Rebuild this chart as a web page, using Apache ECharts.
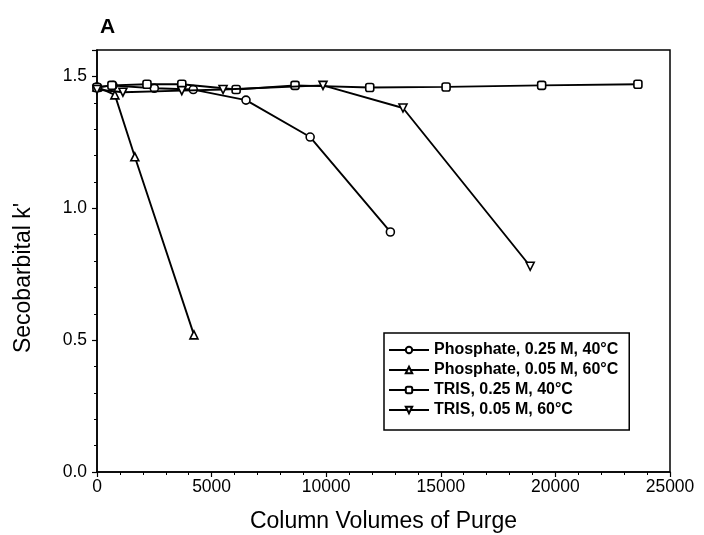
<!DOCTYPE html>
<html><head><meta charset="utf-8">
<script src="https://cdn.jsdelivr.net/npm/echarts@6/dist/echarts.min.js"></script>
<style>html,body{margin:0;padding:0;background:#fff}#c{width:704px;height:535px}</style>
</head><body><div id="c"></div>
<script>
const seriesNames = ["Phosphate, 0.25 M, 40\u00b0C","Phosphate, 0.05 M, 60\u00b0C","TRIS, 0.25 M, 40\u00b0C","TRIS, 0.05 M, 60\u00b0C"];
const phos025X = [0, 700, 2500, 4200, 6500, 9300, 12800];
const phos025Y = [1.46, 1.465, 1.455, 1.45, 1.41, 1.27, 0.91];
const phos005X = [0, 780, 1650, 4230];
const phos005Y = [1.46, 1.43, 1.195, 0.52];
const tris025X = [0, 650, 2180, 3700, 6070, 8640, 11900, 15230, 19400, 23600];
const tris025Y = [1.458, 1.466, 1.47, 1.47, 1.45, 1.466, 1.458, 1.46, 1.466, 1.47];
const tris005X = [0, 1130, 3700, 5500, 9860, 13350, 18900];
const tris005Y = [1.45, 1.44, 1.446, 1.45, 1.466, 1.38, 0.78];
const xTicks = [0, 5000, 10000, 15000, 20000, 25000];
const yTicks = [0.0, 0.5, 1.0, 1.5];

const zip = (xs, ys) => xs.map((x, i) => [x, ys[i]]);
const font = "'Liberation Sans', Arial, sans-serif";
const symbols = ['circle', 'triangle', 'roundRect', 'path://M0,0 L10,0 L5,9 Z'];
const sizes = [8, 8, 8, 8];
const datas = [zip(phos025X, phos025Y), zip(phos005X, phos005Y), zip(tris025X, tris025Y), zip(tris005X, tris005Y)];

const chart = echarts.init(document.getElementById('c'));
chart.setOption({
  animation: false,
  backgroundColor: '#fff',
  title: { text: 'A', left: 95, top: 12, textStyle: { fontFamily: font, fontWeight: 'bold', fontSize: 21, color: '#000' } },
  grid: { left: 97, right: 34, top: 50, bottom: 63, containLabel: false, outerBoundsMode: 'none', show: true, borderColor: '#000', borderWidth: 1.5, backgroundColor: 'transparent' },
  legend: {
    orient: 'vertical', left: 384, top: 333, padding: [9, 11, 12, 4],
    borderColor: '#000', borderWidth: 1.5, backgroundColor: '#fff',
    itemWidth: 40, itemHeight: 8, itemGap: 4,
    textStyle: { fontFamily: font, fontWeight: 'bold', fontSize: 16, color: '#000' },
    data: seriesNames
  },
  xAxis: {
    type: 'value', min: 0, max: 25000, interval: 5000,
    name: 'Column Volumes of Purge', nameLocation: 'middle', nameGap: 38,
    nameTextStyle: { fontFamily: font, fontSize: 23, color: '#000' },
    axisLine: { lineStyle: { color: '#000', width: 1.5 } },
    axisTick: { show: true, length: 5, lineStyle: { color: '#000', width: 1.2 } },
    minorTick: { show: true, splitNumber: 5, length: 3, lineStyle: { color: '#000', width: 1 } },
    splitLine: { show: false },
    axisLabel: { fontFamily: font, fontSize: 17.5, color: '#000', margin: 6, formatter: v => xTicks.includes(v) ? String(v) : '' }
  },
  yAxis: {
    type: 'value', min: 0, max: 1.6, interval: 0.5,
    name: "Secobarbital k'", nameLocation: 'middle', nameGap: 62, nameRotate: 90,
    nameTextStyle: { fontFamily: font, fontSize: 23, color: '#000', padding: [0, 34, 0, 0] },
    axisLine: { lineStyle: { color: '#000', width: 1.5 } },
    axisTick: { show: true, length: 5, lineStyle: { color: '#000', width: 1.2 } },
    minorTick: { show: true, splitNumber: 5, length: 3, lineStyle: { color: '#000', width: 1 } },
    splitLine: { show: false },
    axisLabel: { fontFamily: font, fontSize: 17.5, color: '#000', margin: 10, formatter: v => yTicks.some(t => Math.abs(t - v) < 1e-9) ? v.toFixed(1) : '' }
  },
  series: datas.map((d, i) => ({
    name: seriesNames[i], type: 'line', data: d,
    symbol: symbols[i], symbolSize: sizes[i], showSymbol: true,
    lineStyle: { color: '#000', width: 1.9 },
    itemStyle: { color: '#fff', borderColor: '#000', borderWidth: 1.6 },
    z: 2 + i
  }))
});
</script></body></html>
